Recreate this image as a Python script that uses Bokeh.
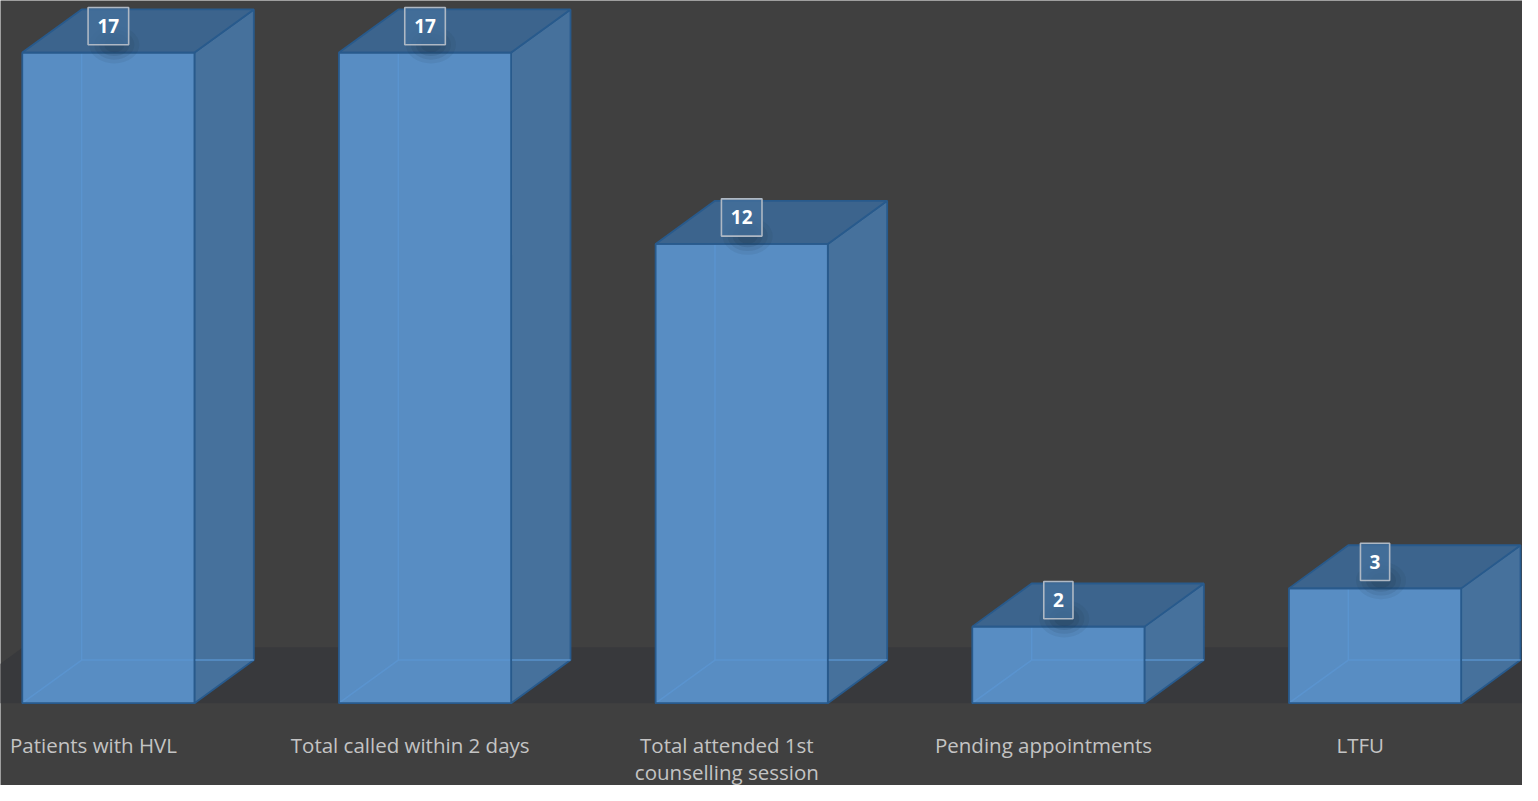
from bokeh.plotting import figure
from bokeh.models import Range1d, ColumnDataSource
from bokeh.core.properties import value
from bokeh.embed import file_html
from bokeh.resources import INLINE

categories = ["Patients with HVL", "Total called within 2 days",
              "Total attended 1st\ncounselling session", "Pending appointments", "LTFU"]
values = [17, 17, 12, 2, 3]

W, H = 1522, 785
sx = W / 1538.0
sy = H / 801.0
px_x = 320.0 * sx            # pixels per category
px_y = 39.05 * sy            # pixels per unit value
x0_px = 109.0 * sx           # front-face centre of first bar
y0_px = H - 717.0 * sy       # value 0, from bottom
hw = 87.0 / 320.0            # half width of front face (category units)
dx = 60.0 / 320.0            # depth offset x
dy = 44.0 / 39.05            # depth offset y

p = figure(width=W, height=H, output_backend="svg", toolbar_location=None,
           x_range=Range1d(-x0_px / px_x, (W - x0_px) / px_x),
           y_range=Range1d(-y0_px / px_y, (H - y0_px) / px_y),
           min_border=0)
p.axis.visible = False
p.grid.visible = False
p.outline_line_color = None
p.background_fill_color = "#404040"
p.border_fill_color = "#404040"

# floor
floor_back = 57.0 / 39.05
xl = -(109.0 + 55.0) / 320.0
p.patch([xl, xl + floor_back * dx / dy, 10, 10], [0, floor_back, floor_back, 0],
        fill_color="#38393c", line_color=None)

n = len(values)
xs = list(range(n))
fronts = ColumnDataSource(dict(left=[x - hw for x in xs], right=[x + hw for x in xs],
                               top=values, bottom=[0] * n))
tops_x = [[x - hw, x + hw, x + hw + dx, x - hw + dx] for x in xs]
tops_y = [[v, v, v + dy, v + dy] for v in values]
side_x = [[x + hw, x + hw + dx, x + hw + dx, x + hw] for x in xs]
side_y = [[0, dy, v + dy, v] for v in values]

edge = "#285a8c"
p.patches(side_x, side_y, fill_color="#46719c", line_color=edge, line_width=1.8)
p.quad(left="left", right="right", top="top", bottom="bottom", source=fronts,
       fill_color="#588dc3", line_color=None)
hid_x = []
hid_y = []
for x, v in zip(xs, values):
    hid_x.append([x - hw, x - hw + dx, x + hw + dx])
    hid_y.append([0, dy, dy])
    hid_x.append([x - hw + dx, x - hw + dx])
    hid_y.append([dy, v + dy])
p.multi_line(hid_x, hid_y, line_color="#5b95d0", line_width=1.5, line_alpha=0.9)
p.patches(tops_x, tops_y, fill_color="#3c648d", line_color=edge, line_width=1.8)
p.quad(left="left", right="right", top="top", bottom="bottom", source=fronts,
       fill_color=None, line_color=edge, line_width=1.8)

# soft shadow beneath value boxes
for k, a in [(50, 0.08), (40, 0.10), (30, 0.12), (20, 0.14)]:
    p.ellipse(x=[x + 6 / 320.0 for x in xs], y=[v + 8 / 39.05 for v in values],
              width=k, height=k * 0.75, width_units="screen", height_units="screen",
              fill_color="#1c2f45", fill_alpha=a, line_color=None)

# value label boxes
labels = [str(v) for v in values]
box_w = [(18 + 11.5 * len(t)) * sx for t in labels]
lab = ColumnDataSource(dict(x=xs, y=[v + 27.0 / 39.05 for v in values], w=box_w, t=labels))
p.rect(x="x", y="y", width="w", height=38 * sy, width_units="screen", height_units="screen",
       source=lab, fill_color="#44709c", fill_alpha=0.75, line_color="#aeb8c4", line_width=1.6)
p.text(x="x", y="y", text="t", source=lab, text_align="center", text_baseline="middle",
       text_color="white", text_font=value("Open Sans"), text_font_style="bold",
       text_font_size="19px")

# category labels
cat_y = ((H - 730.0) - y0_px) / px_y
cat = ColumnDataSource(dict(x=[x - 15.0 / 320.0 for x in xs], y=[cat_y] * n, t=categories))
p.text(x="x", y="y", text="t", source=cat, text_align="center", text_baseline="top",
       text_color="#c4c4c4", text_font=value("Open Sans"), text_font_size="20.5px",
       text_line_height=0.98)

open("out.html", "w").write(file_html(p, INLINE))
